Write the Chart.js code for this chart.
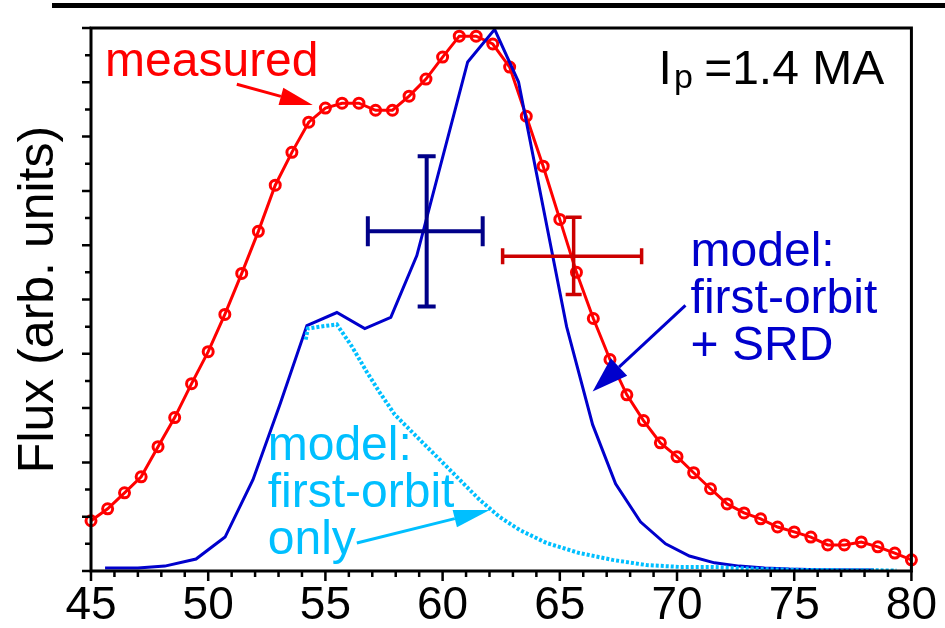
<!DOCTYPE html>
<html>
<head>
<meta charset="utf-8">
<script src="https://cdn.jsdelivr.net/npm/chart.js@4.4.1/dist/chart.umd.min.js"></script>
<style>
  html, body { margin: 0; padding: 0; background: #fff; }
  #wrap { width: 945px; height: 628px; }
</style>
</head>
<body>
<div id="wrap"><canvas id="c" width="945" height="628"></canvas></div>
<script>
// measured flux, red circles
const measuredX = [45, 45.71, 46.43, 47.14, 47.86, 48.57, 49.29, 50, 50.71, 51.43,
  52.14, 52.86, 53.57, 54.29, 55, 55.71, 56.43, 57.14, 57.86, 58.57,
  59.29, 60, 60.71, 61.43, 62.14, 62.86, 63.57, 64.29, 65, 65.71,
  66.43, 67.14, 67.86, 68.57, 69.29, 70, 70.71, 71.43, 72.14, 72.86,
  73.57, 74.29, 75, 75.71, 76.43, 77.14, 77.86, 78.57, 79.29, 80];
const measuredY = [1.85, 2.29, 2.88, 3.47, 4.58, 5.65, 6.90, 8.08, 9.45, 10.96,
  12.51, 14.21, 15.42, 16.53, 17.05, 17.23, 17.23, 16.97, 16.97, 17.49,
  18.12, 18.93, 19.70, 19.70, 19.41, 18.56, 16.75, 14.91, 12.95, 11.00,
  9.30, 7.79, 6.49, 5.54, 4.72, 4.21, 3.62, 3.03, 2.47, 2.14,
  1.92, 1.62, 1.44, 1.25, 0.96, 0.96, 1.07, 0.89, 0.66, 0.41];

// model: first-orbit + SRD
const srdX = [45.6, 47.0, 48.15, 49.48, 50.72, 51.91, 53.06, 54.21, 55.49, 56.68,
  57.79, 58.9, 61.07, 62.22, 63.24, 65.29, 66.4, 67.38, 68.44, 69.51,
  70.53, 71.6, 72.66, 73.73, 74.8, 76.0, 78.4];
const srdY = [0.11, 0.11, 0.18, 0.44, 1.25, 3.36, 6.13, 9.04, 9.52, 8.93,
  9.34, 11.62, 18.75, 19.95, 18.01, 9.00, 5.39, 3.21, 1.81, 1.00,
  0.55, 0.30, 0.18, 0.11, 0.07, 0.05, 0.04];

// model: first-orbit only
const firstOrbitX = [54.16, 54.25, 54.76, 55.49, 56.13, 56.76, 57.32, 57.96, 58.73, 59.88,
  60.73, 61.58, 62.43, 63.29, 64.44, 65.84, 67.25, 68.70, 70.11, 71.51,
  73.64, 75.20, 79.36];
const firstOrbitY = [8.52, 8.93, 9.00, 9.08, 8.27, 7.34, 6.57, 5.76, 5.09, 4.10,
  3.36, 2.62, 1.99, 1.51, 1.03, 0.66, 0.41, 0.22, 0.15, 0.15,
  0.07, 0.04, 0.02];

// error crosses: [low, centre, high]
const modelErrX = [56.81, 59.32, 61.71];
const modelErrY = [9.74, 12.51, 15.28];
const measErrX = [62.56, 65.59, 68.49];
const measErrY = [10.18, 11.59, 13.03];

const xTickLabels = [45, 50, 55, 60, 65, 70, 75, 80];

const FONT = '"Liberation Sans", Arial, sans-serif';
const pts = (xs, ys) => xs.map((x, i) => ({ x: x, y: ys[i] }));

function cross(ctx, sx, sy, ex, ey, color, w, capH, capV) {
  const x0 = sx.getPixelForValue(ex[0]), xc = sx.getPixelForValue(ex[1]), x1 = sx.getPixelForValue(ex[2]);
  const y0 = sy.getPixelForValue(ey[0]), yc = sy.getPixelForValue(ey[1]), y1 = sy.getPixelForValue(ey[2]);
  ctx.strokeStyle = color;
  ctx.lineWidth = w;
  ctx.lineCap = 'butt';
  ctx.beginPath();
  ctx.moveTo(x0, yc); ctx.lineTo(x1, yc);
  ctx.moveTo(xc, y0); ctx.lineTo(xc, y1);
  ctx.moveTo(x0, yc - capH); ctx.lineTo(x0, yc + capH);
  ctx.moveTo(x1, yc - capH); ctx.lineTo(x1, yc + capH);
  ctx.moveTo(xc - capV, y0); ctx.lineTo(xc + capV, y0);
  ctx.moveTo(xc - capV, y1); ctx.lineTo(xc + capV, y1);
  ctx.stroke();
}

function arrow(ctx, sx, sy, from, to, color, len, half) {
  const ax = sx.getPixelForValue(from[0]), ay = sy.getPixelForValue(from[1]);
  const bx = sx.getPixelForValue(to[0]), by = sy.getPixelForValue(to[1]);
  const ang = Math.atan2(by - ay, bx - ax);
  const cx = bx - len * Math.cos(ang), cy = by - len * Math.sin(ang);
  const px = -Math.sin(ang) * half, py = Math.cos(ang) * half;
  ctx.strokeStyle = color;
  ctx.fillStyle = color;
  ctx.lineWidth = 3;
  ctx.beginPath();
  ctx.moveTo(ax, ay); ctx.lineTo(cx, cy);
  ctx.stroke();
  ctx.beginPath();
  ctx.moveTo(bx, by);
  ctx.lineTo(cx + px, cy + py);
  ctx.lineTo(cx - px, cy - py);
  ctx.closePath();
  ctx.fill();
}

function lines(ctx, sx, sy, at, texts, color) {
  const x = sx.getPixelForValue(at[0]), y = sy.getPixelForValue(at[1]);
  ctx.fillStyle = color;
  ctx.font = '48px ' + FONT;
  ctx.textAlign = 'left';
  ctx.textBaseline = 'alphabetic';
  texts.forEach((t, i) => ctx.fillText(t, x, y + i * 47));
}

const decor = {
  id: 'decor',
  afterDatasetsDraw(chart) {
    const { ctx, chartArea: a, scales: { x, y } } = chart;
    ctx.save();

    cross(ctx, x, y, modelErrX, modelErrY, '#000088', 4, 15, 9);
    cross(ctx, x, y, measErrX, measErrY, '#cc0000', 3.5, 8, 8);

    // frame
    ctx.strokeStyle = '#000';
    ctx.lineWidth = 3;
    ctx.strokeRect(a.left, a.top, a.right - a.left, a.bottom - a.top);

    // ticks, outward
    ctx.lineWidth = 2.5;
    ctx.beginPath();
    for (let v = 45; v <= 80; v++) {
      const p = x.getPixelForValue(v);
      ctx.moveTo(p, a.bottom);
      ctx.lineTo(p, a.bottom + (v % 5 === 0 ? 10 : 6));
    }
    for (let v = 0; v <= 20; v++) {
      const p = y.getPixelForValue(v);
      ctx.moveTo(a.left, p);
      ctx.lineTo(a.left - (v % 2 === 0 ? 9 : 6), p);
    }
    ctx.stroke();

    // figure border cut at the top
    ctx.lineWidth = 5;
    ctx.beginPath();
    ctx.moveTo(52, 5.5);
    ctx.lineTo(945, 5.5);
    ctx.stroke();

    // annotations
    lines(ctx, x, y, [45.6, 18.23], ['measured'], '#ff0000');
    arrow(ctx, x, y, [51.22, 17.93], [54.46, 17.16], '#ff0000', 33, 9);

    lines(ctx, x, y, [70.58, 11.22], ['model:', 'first-orbit', '+ SRD'], '#0000cc');
    arrow(ctx, x, y, [70.36, 9.78], [66.40, 6.61], '#0000cc', 36, 12);

    lines(ctx, x, y, [52.54, 4.10], ['model:', 'first-orbit', 'only'], '#00bfff');
    arrow(ctx, x, y, [56.34, 1.03], [62.01, 2.25], '#00bfff', 36, 9);

    // I_p = 1.4 MA
    const rx = x.getPixelForValue(78.84), by = y.getPixelForValue(17.93);
    ctx.fillStyle = '#000';
    ctx.textBaseline = 'alphabetic';
    ctx.textAlign = 'left';
    ctx.font = '48px ' + FONT;
    const rest = ' =1.4 MA';
    const wI = ctx.measureText('I').width, wR = ctx.measureText(rest).width;
    ctx.font = '34px ' + FONT;
    const wP = ctx.measureText('p').width;
    let sx0 = rx - wR - wP - wI;
    ctx.font = '48px ' + FONT;
    ctx.fillText('I', sx0, by);
    ctx.font = '34px ' + FONT;
    ctx.fillText('p', sx0 + wI + 2, by + 4);
    ctx.font = '48px ' + FONT;
    ctx.fillText(rest, sx0 + wI + wP, by);

    ctx.restore();
  }
};

new Chart(document.getElementById('c'), {
  type: 'line',
  data: {
    datasets: [
      {
        data: pts(firstOrbitX, firstOrbitY),
        borderColor: '#00bfff',
        borderWidth: 4,
        borderDash: [3, 2],
        borderCapStyle: 'butt',
        pointRadius: 0,
        tension: 0,
      },
      {
        data: pts(srdX, srdY),
        borderColor: '#0000cc',
        borderWidth: 3,
        pointRadius: 0,
        tension: 0,
      },
      {
        data: pts(measuredX, measuredY),
        borderColor: '#ff0000',
        borderWidth: 3,
        pointRadius: 5,
        pointBorderWidth: 3,
        pointBorderColor: '#ff0000',
        pointBackgroundColor: 'rgba(255,255,255,0)',
        tension: 0,
        clip: false,
      },
    ],
  },
  options: {
    responsive: false,
    animation: false,
    events: [],
    layout: { padding: { top: 28, right: 33, left: 0, bottom: 0 } },
    plugins: { legend: { display: false }, title: { display: false }, tooltip: { enabled: false } },
    scales: {
      x: {
        type: 'linear',
        min: 45,
        max: 80,
        afterFit: (s) => { s.height = 57; },
        afterBuildTicks: (s) => { s.ticks = xTickLabels.map((v) => ({ value: v })); },
        ticks: { font: { size: 46, family: FONT }, color: '#000', padding: 8, maxRotation: 0, autoSkip: false },
        grid: { display: false, drawTicks: false },
        border: { display: false },
      },
      y: {
        min: 0,
        max: 20,
        afterFit: (s) => { s.width = 91; },
        ticks: { display: false },
        grid: { display: false, drawTicks: false },
        border: { display: false },
        title: {
          display: true,
          text: 'Flux (arb. units)',
          color: '#000',
          font: { size: 50, family: FONT },
          padding: { top: 9, bottom: 0 },
        },
      },
    },
  },
  plugins: [decor],
});
</script>
</body>
</html>
